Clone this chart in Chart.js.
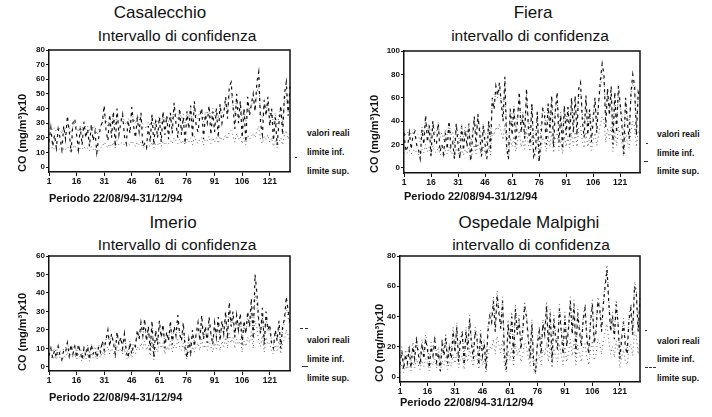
<!DOCTYPE html>
<html><head><meta charset="utf-8">
<script src="https://cdn.jsdelivr.net/npm/chart.js@4"></script>
<style>
body{margin:0;background:#fff;width:712px;height:417px;overflow:hidden;position:relative;font-family:"Liberation Sans",Arial,sans-serif;color:#111}
.t{position:absolute;white-space:nowrap;transform:translate(-50%,-50%);}
.h1{font-size:17px}
.h2{font-size:15.5px}
.lg{position:absolute;font-size:8.5px;font-weight:bold;transform:translateY(-50%);white-space:nowrap}
.wrap{position:absolute}
.mk{position:absolute;height:0;border-top:1px dashed #333}
</style></head><body>

<div class="t h1" style="left:160px;top:13px">Casalecchio</div>
<div class="t h2" style="left:177px;top:36px">Intervallo di confidenza</div>
<div class="t h1" style="left:533px;top:13px">Fiera</div>
<div class="t h2" style="left:530px;top:36px">intervallo di confidenza</div>
<div class="t h1" style="left:173px;top:223px">Imerio</div>
<div class="t h2" style="left:177px;top:245px">Intervallo di confidenza</div>
<div class="t h1" style="left:529px;top:223px">Ospedale Malpighi</div>
<div class="t h2" style="left:531px;top:245px">intervallo di confidenza</div>

<div class="lg" style="left:307px;top:133px">valori reali</div>
<div class="lg" style="left:307px;top:152px">limite inf.</div>
<div class="lg" style="left:307px;top:171px">limite sup.</div>
<div class="lg" style="left:657px;top:134px">valori reali</div>
<div class="lg" style="left:657px;top:153px">limite inf.</div>
<div class="lg" style="left:657px;top:171px">limite sup.</div>
<div class="lg" style="left:307px;top:340px">valori reali</div>
<div class="lg" style="left:307px;top:359px">limite inf.</div>
<div class="lg" style="left:307px;top:378px">limite sup.</div>
<div class="lg" style="left:657px;top:341px">valori reali</div>
<div class="lg" style="left:657px;top:359px">limite inf.</div>
<div class="lg" style="left:657px;top:378px">limite sup.</div>

<div class="mk" style="left:295px;top:157px;width:2px"></div>
<div class="mk" style="left:646px;top:143px;width:2px"></div>
<div class="mk" style="left:644px;top:161px;width:4px"></div>
<div class="mk" style="left:300px;top:328px;width:8px"></div>
<div class="mk" style="left:302px;top:366px;width:6px"></div>
<div class="mk" style="left:645px;top:330px;width:2px"></div>
<div class="mk" style="left:645px;top:367px;width:11px"></div>

<div class="wrap" style="left:0px;top:44px"><canvas id="c1" width="300" height="165"></canvas></div>
<div class="wrap" style="left:355px;top:44px"><canvas id="c2" width="300" height="163"></canvas></div>
<div class="wrap" style="left:0px;top:250px"><canvas id="c3" width="300" height="158"></canvas></div>
<div class="wrap" style="left:355px;top:250px"><canvas id="c4" width="300" height="163"></canvas></div>

<script>
const xTickLabels = [1, 16, 31, 46, 61, 76, 91, 106, 121];
const days = Array.from({length: 132}, (_, i) => i + 1);
const seriesNames = ['valori reali', 'limite inf.', 'limite sup.'];
const casalecchioYTicks = [0, 10, 20, 30, 40, 50, 60, 70, 80];
const fieraYTicks = [0, 20, 40, 60, 80, 100];
const imerioYTicks = [0, 10, 20, 30, 40, 50, 60];
const malpighiYTicks = [0, 20, 40, 60, 80];

const casalecchioReali = [
17,27,14,22,13,26,20,12,28,19, 35,24,10,30,33,22,12,27,15,31,
20,26,14,29,18,24,10,20,27,31, 42,25,18,36,20,38,14,40,22,30,
36,21,16,32,23,41,28,20,33,24, 37,14,16,13,28,17,36,15,32,20,
34,17,38,22,35,19,37,23,44,30, 20,40,22,34,16,38,26,42,20,45,
28,24,35,40,19,36,30,42,22,38, 24,40,20,43,30,36,48,33,55,58,
42,26,50,30,45,20,40,17,48,35, 43,50,38,58,65,30,22,46,35,48,
28,40,18,34,15,30,42,22,50,58, 35,55];
const casalecchioInf = [
13,12,14,12,11,13,12,10,13,12, 14,12,10,13,15,12,11,13,12,14,
12,13,11,14,12,13,9,11,13,14, 17,15,13,16,14,17,13,18,15,16,
17,15,14,16,15,18,16,14,17,15, 17,13,14,13,15,14,17,13,16,15,
17,14,18,15,17,16,18,16,20,18, 16,19,16,18,15,19,17,20,15,21,
18,16,19,20,15,19,18,21,16,20, 17,20,16,21,18,19,22,19,24,25,
21,17,23,19,21,16,20,15,22,19, 21,23,20,25,28,18,16,21,19,22,
17,20,14,18,13,17,20,15,22,25, 19,24];
const casalecchioSup = [
26,27,25,27,24,27,26,23,28,26, 30,27,23,28,30,27,24,28,25,30,
27,28,24,29,26,28,22,25,28,30, 36,32,28,34,30,35,28,36,31,33,
35,31,29,33,31,37,33,30,35,32, 35,27,28,26,31,28,35,27,33,30,
35,29,36,31,35,31,36,32,40,36, 32,38,33,36,30,38,34,40,31,41,
36,33,38,40,31,38,36,41,33,40, 35,40,33,41,37,39,44,38,49,51,
43,36,46,39,43,33,40,31,44,39, 42,46,40,51,56,36,32,43,38,44,
34,40,29,37,27,35,41,31,45,51, 38,48];

const fieraReali = [
30,14,18,30,16,28,31,20,16,8, 33,20,45,22,36,10,40,22,20,38,
14,20,12,30,16,40,18,22,8,38, 20,8,36,15,32,18,38,6,25,44,
18,46,30,10,36,20,8,40,15,60, 50,70,62,73,55,40,78,18,8,50,
28,52,20,40,65,30,45,25,68,35, 20,55,10,15,48,5,24,50,45,20,
55,30,62,18,48,65,22,45,16,53, 28,52,25,60,30,62,28,68,73,40,
26,62,28,50,22,40,60,30,55,75, 89,80,35,68,45,70,20,65,30,70,
55,35,12,60,38,25,65,80,70,28, 65,60];
const fieraInf = [
14,12,13,15,12,14,16,13,12,9, 16,13,20,14,18,10,19,14,13,18,
11,13,10,15,12,18,12,14,7,17, 13,8,17,11,16,12,17,6,14,20,
12,21,16,9,18,13,7,19,11,30, 28,35,32,38,30,24,38,13,7,26,
18,27,14,22,32,18,24,16,33,20, 14,28,9,11,24,5,16,26,23,14,
28,18,31,13,25,32,15,24,12,27, 18,27,17,30,19,31,18,34,36,23,
17,31,18,26,15,23,30,19,28,37, 44,40,22,34,25,35,14,32,19,35,
28,21,10,30,22,17,32,40,35,18, 32,30];
const fieraSup = [
32,28,30,33,28,31,34,30,28,22, 35,30,42,31,38,24,40,31,30,39,
26,30,24,33,28,39,28,31,19,37, 30,21,37,26,35,28,37,18,32,42,
28,44,35,22,38,30,19,41,26,58, 55,64,60,68,58,48,70,30,19,52,
38,53,32,45,60,38,48,36,62,42, 32,55,24,28,48,16,36,52,48,32,
54,38,58,31,50,60,35,48,29,53, 38,53,37,57,40,58,39,62,66,46,
37,58,38,51,34,47,57,40,55,68, 80,74,45,63,50,64,32,60,40,64,
53,44,26,57,45,36,60,73,65,38, 60,57];

const imerioReali = [
6,10,5,9,5,11,6,4,9,8, 13,6,12,7,11,5,12,8,4,10,
6,11,4,12,7,9,5,11,8,14, 9,15,20,11,18,13,7,19,12,16,
10,18,8,5,13,7,12,11,20,15, 24,17,26,14,22,9,25,5,20,12,
25,16,23,10,19,14,25,12,22,17, 28,18,14,24,10,5,15,8,20,11,
18,24,14,28,15,22,13,27,18,12, 24,16,27,14,25,18,30,15,35,22,
30,16,28,20,29,12,25,18,30,22, 37,15,50,40,25,18,32,12,30,20,
23,12,10,20,14,25,10,22,26,38, 30,24];
const imerioInf = [
5,6,4,6,4,7,5,3,6,5, 8,5,7,5,7,4,7,5,3,6,
4,7,3,7,5,6,4,7,5,8, 6,9,11,7,10,8,5,11,8,10,
7,10,5,4,8,5,8,7,11,9, 13,10,14,9,12,6,14,4,11,8,
14,10,13,7,11,9,14,8,12,10, 15,11,9,13,7,4,9,6,11,8,
11,13,9,15,10,12,9,14,11,8, 13,10,14,9,14,11,16,10,18,13,
16,10,15,12,15,8,14,11,16,13, 19,10,25,21,14,11,17,8,16,12,
13,8,7,12,9,14,7,13,15,20, 17,14];
const imerioSup = [
9,11,8,10,8,12,9,7,10,10, 13,9,12,10,12,8,12,10,7,11,
8,12,7,12,9,11,8,12,10,14, 11,15,18,13,17,14,10,18,13,16,
12,17,10,8,14,10,13,12,18,15, 21,17,22,15,20,12,22,9,18,14,
22,16,21,13,18,15,22,14,20,17, 24,18,15,21,13,8,15,12,18,14,
18,21,15,24,16,20,15,23,18,14, 21,17,23,16,22,18,26,17,30,21,
26,17,24,19,25,14,22,18,26,21, 31,17,40,33,23,18,27,14,26,19,
21,14,12,19,15,22,12,20,24,32, 27,22];

const malpighiReali = [
8,17,5,15,9,18,6,20,12,24, 15,8,22,12,25,18,6,20,14,24,
10,16,4,22,14,26,9,19,12,30, 16,33,10,24,28,8,30,18,38,22,
12,30,25,8,28,14,22,5,30,40, 36,50,30,54,42,32,50,15,5,35,
22,40,12,45,28,38,18,30,47,40, 25,12,35,8,3,22,30,15,35,28,
47,20,42,10,38,25,18,45,30,15, 40,20,32,50,28,48,15,42,30,20,
38,45,25,15,36,48,22,30,50,45, 30,48,60,71,48,30,40,25,48,35,
12,25,36,20,15,38,45,28,60,55, 30,52];
const malpighiInf = [
5,8,3,7,5,9,4,10,6,12, 8,5,11,7,12,9,4,10,8,12,
6,9,3,11,8,13,5,10,7,15, 9,16,6,12,14,5,15,10,19,12,
7,15,13,5,14,8,12,3,15,20, 18,25,15,27,21,16,25,8,3,18,
11,20,7,22,14,19,10,15,23,20, 13,7,18,5,2,11,15,8,18,14,
23,10,21,6,19,13,10,22,15,8, 20,10,16,25,14,24,8,21,15,10,
19,22,13,8,18,24,11,15,25,22, 15,24,30,35,24,15,20,13,24,18,
6,13,18,10,8,19,22,14,30,27, 15,26];
const malpighiSup = [
12,20,9,18,13,21,10,23,16,27, 19,12,25,16,28,21,10,23,18,27,
14,20,8,25,18,29,13,22,16,33, 20,36,14,27,31,12,33,21,41,25,
16,33,28,12,31,18,25,9,33,43, 40,53,34,57,45,35,53,19,9,38,
25,43,16,48,31,41,21,33,50,43, 28,16,38,12,6,25,33,19,38,31,
50,23,45,14,41,28,21,48,33,19, 43,23,35,53,31,51,19,45,33,23,
41,48,28,19,39,51,25,33,53,48, 33,51,63,74,51,33,43,28,51,38,
15,28,39,23,19,41,48,31,63,58, 33,55];

const FONT = '"Liberation Sans", Arial, sans-serif';
const INK = '#111';

const boxPlugin = {
  id: 'box',
  afterDraw(chart) {
    const {ctx, chartArea: a} = chart;
    ctx.save();
    ctx.strokeStyle = INK; ctx.lineWidth = 1.5;
    ctx.beginPath();
    ctx.moveTo(a.left, a.top); ctx.lineTo(a.right, a.top); ctx.lineTo(a.right, a.bottom);
    ctx.stroke();
    ctx.restore();
  }
};

function makePanel(id, reali, inf, sup, yTicks, p) {
  new Chart(document.getElementById(id), {
    type: 'line',
    data: {
      labels: days,
      datasets: [
        {label: seriesNames[0], data: reali, borderColor: '#111', borderWidth: 1.2, borderDash: [3, 4], pointRadius: 0, tension: 0},
        {label: seriesNames[1], data: inf, borderColor: '#666', borderWidth: 1, borderDash: [1, 3], pointRadius: 0, tension: 0},
        {label: seriesNames[2], data: sup, borderColor: '#666', borderWidth: 1, borderDash: [1, 3], pointRadius: 0, tension: 0}
      ]
    },
    options: {
      responsive: false, animation: false, devicePixelRatio: 1,
      layout: {padding: {top: p.padTop, right: p.padRight, left: 0, bottom: 0}},
      plugins: {legend: {display: false}, tooltip: {enabled: false}},
      scales: {
        x: {
          type: 'category',
          offset: false,
          afterFit(s) { s.height = p.xHeight; },
          border: {display: true, color: INK, width: 1.5, dash: p.xDash || []},
          grid: {
            drawOnChartArea: false, drawTicks: true, tickLength: 4,
            color: (c) => (c.tick && xTickLabels.includes(days[c.index])) ? INK : 'rgba(0,0,0,0)'
          },
          ticks: {
            autoSkip: false, maxRotation: 0, minRotation: 0, padding: 1, color: INK,
            font: {family: FONT, size: 8.5, weight: 'bold'},
            callback: (v, i) => xTickLabels.includes(days[i]) ? String(days[i]) : ''
          },
          title: {display: true, text: 'Periodo 22/08/94-31/12/94', align: 'start', color: INK,
            font: {family: FONT, size: 11, weight: 'bold'}, padding: {top: 0, bottom: 3}}
        },
        y: {
          min: p.min, max: p.max,
          afterFit(s) { s.width = p.yWidth; },
          afterBuildTicks(s) { s.ticks = yTicks.map(v => ({value: v})); },
          border: {display: true, color: INK, width: 1.5},
          grid: {drawOnChartArea: false, drawTicks: true, tickLength: 3, color: INK},
          ticks: {padding: 1, color: INK, font: {family: FONT, size: 8, weight: 'bold'}},
          title: {display: true, text: 'CO (mg/m³)x10', align: 'start', color: INK,
            font: {family: FONT, size: 11, weight: 'bold'}, padding: {top: p.yTitlePad, bottom: 0}}
        }
      }
    },
    plugins: [boxPlugin]
  });
}

makePanel('c1', casalecchioReali, casalecchioInf, casalecchioSup, casalecchioYTicks,
  {padTop: 6, padRight: 10, xHeight: 37, yWidth: 49, min: -3.4, max: 80, xDash: [6, 4], yTitlePad: 16});
makePanel('c2', fieraReali, fieraInf, fieraSup, fieraYTicks,
  {padTop: 7, padRight: 15, xHeight: 34, yWidth: 49, min: -4.3, max: 100, xDash: [6, 4], yTitlePad: 13});
makePanel('c3', imerioReali, imerioInf, imerioSup, imerioYTicks,
  {padTop: 6, padRight: 10, xHeight: 37, yWidth: 49, min: -2.2, max: 60, yTitlePad: 16});
makePanel('c4', malpighiReali, malpighiInf, malpighiSup, malpighiYTicks,
  {padTop: 6, padRight: 15, xHeight: 31, yWidth: 45, min: -3.3, max: 80, yTitlePad: 18});
</script>
</body></html>
